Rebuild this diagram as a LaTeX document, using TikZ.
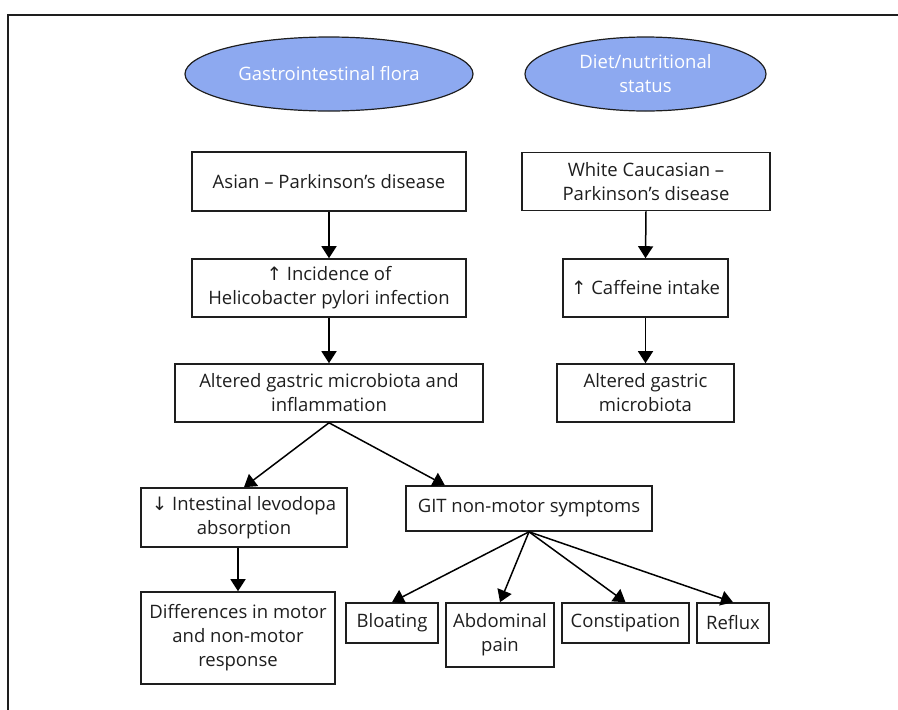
\documentclass[tikz,border=0pt]{standalone}
\usepackage{fontspec}
\setmainfont{Open Sans}
\newfontfamily\arrowfont{DejaVu Sans}
\usetikzlibrary{shapes.geometric, arrows.meta, calc}

\definecolor{ovalblue}{RGB}{141,169,240}
\definecolor{inkgray}{RGB}{30,30,30}

\tikzset{
  box/.style={draw=inkgray, line width=1.6pt, rectangle, inner sep=0pt,
    align=center, text=inkgray},
  oval/.style={draw=inkgray, line width=1.2pt, ellipse, fill=ovalblue,
    inner sep=0pt, align=center, text=white},
  flow/.style={-{Triangle[length=12pt,width=15pt]}, line width=1.5pt, draw=black}
}

\newcommand{\up}{{\arrowfont\char"2191}}
\newcommand{\down}{{\arrowfont\char"2193}}

\begin{document}
\begin{tikzpicture}[x=1pt, y=-1pt,
    font=\fontsize{18.5}{24}\selectfont]

    \useasboundingbox (0,0) rectangle (898,710);

    % ==========================================
    % 0. Cornice (solo lato superiore e sinistro)
    % ==========================================
    \draw[line width=2pt, inkgray] (898,15) -- (7.5,15) -- (7.5,710);

    % ==========================================
    % 1. Ovali in alto
    % ==========================================
    \node[oval, minimum width=288, minimum height=74] (flora) at (329,74)
        {Gastrointestinal flora};
    \node[oval, minimum width=241, minimum height=74] (diet) at (645.5,74)
        {Diet/nutritional\\status};

    % ==========================================
    % 2. Colonna sinistra: Asian
    % ==========================================
    \node[box, minimum width=274, minimum height=59] (asian) at (329,181.5)
        {Asian -- Parkinson’s disease};
    \node[box, minimum width=274, minimum height=58] (hpylori) at (329,288)
        {\up\ Incidence of\\Helicobacter pylori infection};
    \node[box, minimum width=308, minimum height=58] (altered) at (329,393)
        {Altered gastric microbiota and\\inflammation};

    \draw[flow] (asian.south) -- (hpylori.north);
    \draw[flow] (hpylori.south) -- (altered.north);

    % ==========================================
    % 3. Colonna destra: White Caucasian
    % ==========================================
    \node[box, minimum width=248, minimum height=58] (white) at (646,181.5)
        {White Caucasian --\\Parkinson’s disease};
    \node[box, minimum width=165, minimum height=58] (caffeine) at (645.5,288)
        {\up\ Caffeine intake};
    \node[box, minimum width=177, minimum height=58] (alteredr) at (645.5,393)
        {Altered gastric\\microbiota};

    \draw[flow] (white.south) -- (caffeine.north);
    \draw[flow] (caffeine.south) -- (alteredr.north);

    % ==========================================
    % 4. Ramificazione: levodopa e sintomi GIT
    % ==========================================
    \node[box, minimum width=206, minimum height=59] (levodopa) at (244,517.5)
        {\down\ Intestinal levodopa\\absorption};
    \node[box, minimum width=246, minimum height=45] (git) at (529,508.5)
        {GIT non-motor symptoms};
    \node[box, minimum width=194, minimum height=92] (differ) at (238,638)
        {Differences in motor\\and non-motor\\response};

    \draw[flow] (altered.south) -- (levodopa.north);
    \draw[flow] (altered.south) -- ($(git.north west)!0.16!(git.north east)$);
    \draw[flow] (levodopa.south -| differ.north) -- (differ.north);

    % ==========================================
    % 5. Sintomi in basso
    % ==========================================
    \node[box, minimum width=92, minimum height=40] (bloat) at (392,623) {Bloating};
    \node[box, minimum width=108, minimum height=64] (abdom) at (500,635)
        {Abdominal\\pain};
    \node[box, minimum width=127, minimum height=40] (constip) at (625.5,623)
        {Constipation};
    \node[box, minimum width=72, minimum height=40] (reflux) at (733,623) {Reflux};

    \foreach \sym in {bloat, abdom, constip, reflux}
        \draw[flow] (git.south) -- (\sym.north);

\end{tikzpicture}
\end{document}
